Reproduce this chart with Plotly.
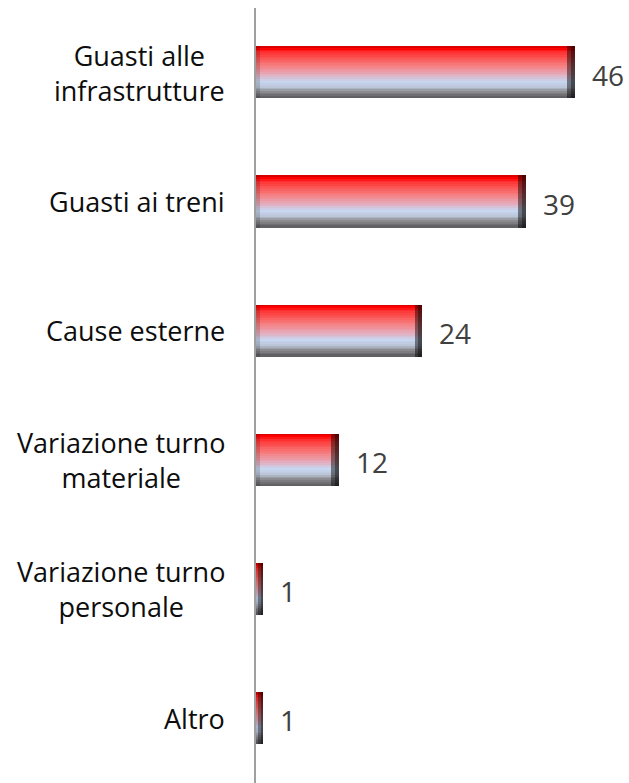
import plotly.graph_objects as go

categories = ["Guasti alle<br>infrastrutture", "Guasti ai treni", "Cause esterne",
              "Variazione turno<br>materiale", "Variazione turno<br>personale", "Altro"]
values = [46, 39, 24, 12, 1, 1]

# vertical gradient stops (fraction from top of bar, colour)
stops = [(0.00, (200, 0, 0)), (0.05, (255, 0, 0)), (0.12, (255, 50, 50)),
         (0.38, (246, 128, 130)), (0.55, (228, 172, 188)), (0.68, (200, 216, 242)),
         (0.78, (190, 200, 220)), (0.88, (140, 140, 145)), (1.00, (90, 90, 95))]

def interp(f):
    for (a, ca), (b, cb) in zip(stops[:-1], stops[1:]):
        if a <= f <= b:
            t = (f - a) / (b - a) if b > a else 0
            return tuple(ca[i] + (cb[i] - ca[i]) * t for i in range(3))
    return stops[-1][1]

def rgb(c, k=1.0):
    return "rgb(%d,%d,%d)" % tuple(int(max(0, min(255, v * k))) for v in c)

BAR_H = 0.40
N = 30
idx = list(range(len(categories)))
fig = go.Figure()
sh = BAR_H / N
bevel = 1.1
for s in range(N):
    f = (s + 0.5) / N
    c = interp(f)
    yy = [i - BAR_H / 2 + (s + 0.5) * sh for i in idx]
    fig.add_trace(go.Bar(x=values, y=yy, orientation="h", width=sh * 1.05,
                         marker=dict(color=rgb(c), line=dict(width=0)),
                         hoverinfo="skip", showlegend=False))
    bw = [min(bevel, v * 0.7) for v in values]
    fig.add_trace(go.Bar(x=bw, base=[v - b for v, b in zip(values, bw)], y=yy,
                         orientation="h", width=sh * 1.05,
                         marker=dict(color=rgb(c, 0.55), line=dict(width=0)),
                         hoverinfo="skip", showlegend=False))
    bw2 = [b / 2 for b in bw]
    fig.add_trace(go.Bar(x=bw2, base=[v - b for v, b in zip(values, bw2)], y=yy,
                         orientation="h", width=sh * 1.05,
                         marker=dict(color=rgb(c, 0.35), line=dict(width=0)),
                         hoverinfo="skip", showlegend=False))
    lw = [min(0.6, v * 0.25) for v in values]
    fig.add_trace(go.Bar(x=lw, y=yy, orientation="h", width=sh * 1.05,
                         marker=dict(color=rgb(c, 0.85), line=dict(width=0)),
                         hoverinfo="skip", showlegend=False))

annotations = []
for i, (cat, v) in enumerate(zip(categories, values)):
    annotations.append(dict(x=0, xref="paper", y=i, yref="y", text=cat,
                            xanchor="right", yanchor="middle", align="center",
                            xshift=-29, showarrow=False,
                            font=dict(family="Open Sans", size=27, color="#0d0d0d")))
    annotations.append(dict(x=v, xref="x", y=i, yref="y", text=str(v),
                            xanchor="left", yanchor="middle", xshift=15, yshift=-2,
                            showarrow=False,
                            font=dict(family="Open Sans", size=28, color="#404040")))

fig.update_layout(
    width=629, height=783, barmode="overlay", bargap=0,
    margin=dict(l=256, r=6, t=8, b=0),
    paper_bgcolor="white", plot_bgcolor="white",
    xaxis=dict(range=[0, 53], visible=False, showgrid=False, zeroline=False),
    yaxis=dict(range=[len(categories) - 0.5, -0.5], showticklabels=False,
               showgrid=False, zeroline=False, showline=True,
               linecolor="#A0A0A0", linewidth=2, ticks=""),
    annotations=annotations,
)
fig.write_html("out.html", config={"displayModeBar": False},
               post_script="document.body.style.margin='0';document.body.style.overflow='hidden';")
